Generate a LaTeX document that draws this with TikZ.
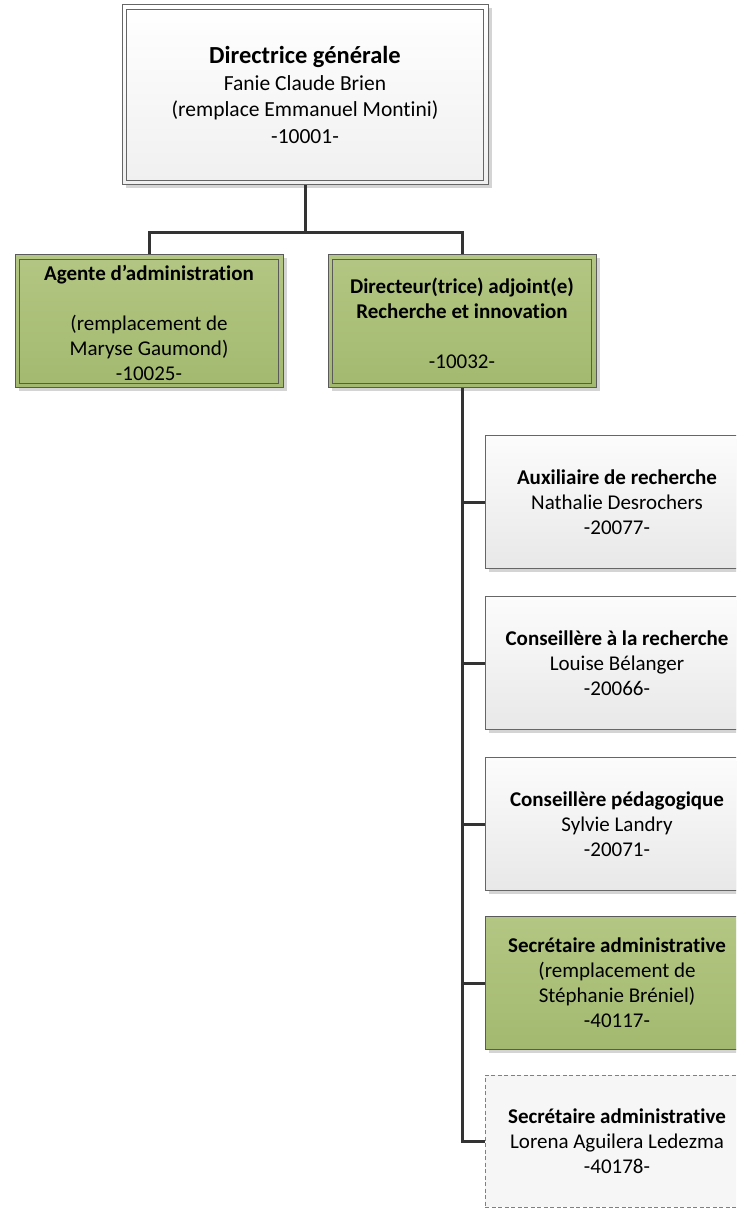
\documentclass[tikz,border=0pt]{standalone}
\usepackage{fontspec}
\setmainfont{Carlito}[Ligatures=NoCommon]
\usetikzlibrary{shadows}
\definecolor{grnA}{HTML}{B3C683}
\definecolor{grnB}{HTML}{A3B96F}
\definecolor{bordc}{HTML}{5A5A5A}
\definecolor{linec}{HTML}{333333}
\definecolor{shad}{HTML}{D4D4D4}
\definecolor{grayA}{HTML}{FCFCFC}
\definecolor{grayB}{HTML}{E8E8E8}
\begin{document}
\begin{tikzpicture}[x=1pt,y=-1pt,
  box/.style={rectangle, draw=bordc, line width=1pt, align=center, inner sep=0pt,
    font=\fontsize{21}{25}\selectfont,
    drop shadow={shadow xshift=3.5pt,shadow yshift=-3.5pt,fill=shad,opacity=1}},
  graybox/.style={box, draw=gray!80!black, top color=grayA, bottom color=grayB,
    minimum width=264pt, minimum height=133pt},
  greenbox/.style={box, top color=grnA, bottom color=grnB,
    minimum width=268pt, minimum height=133pt},
  dashbox/.style={rectangle, draw=gray, line width=1pt, dash pattern=on 4pt off 2.5pt,
    fill=gray!7, align=center, inner sep=0pt, font=\fontsize{21}{25}\selectfont,
    minimum width=264pt, minimum height=132pt},
  topbox/.style={box, draw=gray!80!black, top color=white, bottom color=gray!12,
    minimum width=366pt, minimum height=180pt, font=\fontsize{21.5}{26.5}\selectfont},
  txt/.style={align=center, inner sep=0pt, font=\fontsize{21}{25}\selectfont},
  inner/.style={draw=bordc, line width=0.8pt},
  conn/.style={draw=linec, line width=3pt}]
\path[use as bounding box] (0,0) rectangle (736,1209);
\clip (0,0) rectangle (736,1209);

% top box
\node[topbox] (dg) at (305,95) {{\fontsize{24.5}{26.5}\selectfont\textbf{Directrice générale}}\\Fanie Claude Brien\\(remplace Emmanuel Montini)\\-10001-};
\draw[inner, draw=gray!80!black] ([xshift=5pt,yshift=-5pt]dg.north west) rectangle ([xshift=-5pt,yshift=5pt]dg.south east);

% second level
\node[greenbox] (ag) at (149,321) {};
\draw[inner] ([xshift=5pt,yshift=-5pt]ag.north west) rectangle ([xshift=-5pt,yshift=5pt]ag.south east);
\node[txt] (agt) at (149,323)
  {\textbf{Agente d’administration}\\[25pt](remplacement de\\Maryse Gaumond)\\-10025-};

\node[greenbox] (da) at (462,321) {};
\draw[inner] ([xshift=5pt,yshift=-5pt]da.north west) rectangle ([xshift=-5pt,yshift=5pt]da.south east);
\node[txt] (dat) at (462,323)
  {\textbf{Directeur(trice) adjoint(e)}\\\textbf{Recherche et innovation}\\[25pt]-10032-};

% right column
\node[graybox] (b1) at (617,502) {\textbf{Auxiliaire de recherche}\\Nathalie Desrochers\\-20077-};
\node[graybox] (b2) at (617,663) {\textbf{Conseillère à la recherche}\\Louise Bélanger\\-20066-};
\node[graybox] (b3) at (617,824) {\textbf{Conseillère pédagogique}\\Sylvie Landry\\-20071-};
\node[box, top color=grnA, bottom color=grnB, minimum width=264pt, minimum height=133pt] (b4) at (617,983)
  {\textbf{Secrétaire administrative}\\(remplacement de\\Stéphanie Bréniel)\\-40117-};
\node[dashbox] (b5) at (617,1141) {\textbf{Secrétaire administrative}\\Lorena Aguilera Ledezma\\-40178-};

% connectors
\coordinate (j) at (305,232);
\draw[conn] (dg.south) -- (j) -| (ag.north);
\draw[conn] (j) -| (da.north);
\draw[conn] (da.south) |- (b1.west);
\draw[conn] (da.south) |- (b2.west);
\draw[conn] (da.south) |- (b3.west);
\draw[conn] (da.south) |- (b4.west);
\draw[conn] (da.south) |- (b5.west);
\end{tikzpicture}
\end{document}
